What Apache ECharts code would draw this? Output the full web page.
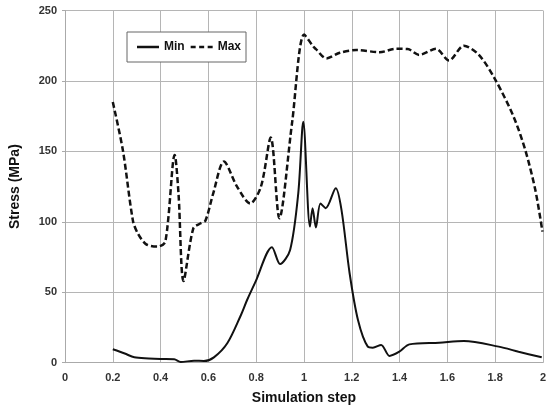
<!DOCTYPE html>
<html>
<head>
<meta charset="utf-8">
<script src="https://cdn.jsdelivr.net/npm/echarts@6/dist/echarts.min.js"></script>
<style>
  html, body { margin: 0; padding: 0; background: #fff; }
  #chart { width: 549px; height: 410px; }
</style>
</head>
<body>
<div id="chart"></div>
<script>
// values: [simulation step, stress]
const minData = [
  [0.2, 9.5], [0.25, 6.5], [0.29, 3.8], [0.35, 3.0], [0.4, 2.6], [0.457, 2.4], [0.484, 0.5],
  [0.54, 1.4], [0.581, 1.2], [0.623, 3.8], [0.679, 13.8], [0.734, 33], [0.762, 44.5],
  [0.796, 57], [0.866, 82], [0.9, 70], [0.942, 80], [0.976, 120], [0.997, 171],
  [1.025, 96.6], [1.036, 109.7], [1.05, 96], [1.069, 113], [1.091, 109.7], [1.133, 123.9],
  [1.157, 108.5], [1.191, 63.5], [1.226, 30.3], [1.267, 11.4], [1.288, 10.7], [1.323, 12.6],
  [1.358, 4.8], [1.399, 7.8], [1.441, 13], [1.566, 14.2], [1.669, 15.4], [1.815, 11.4],
  [1.898, 7.8], [1.995, 3.8]
];
const maxData = [
  [0.2, 185], [0.242, 151], [0.284, 101], [0.304, 92], [0.34, 84], [0.387, 82.4], [0.42, 86],
  [0.459, 147.5], [0.475, 120], [0.496, 58], [0.537, 95.4], [0.568, 99], [0.588, 101],
  [0.62, 120], [0.665, 142.8], [0.72, 125], [0.775, 113], [0.82, 125], [0.861, 159.8],
  [0.897, 102.5], [0.95, 170], [1.001, 233], [1.039, 224.4], [1.05, 222.6], [1.094, 216],
  [1.15, 220], [1.219, 222], [1.316, 220.4], [1.385, 222.8], [1.434, 222.6], [1.482, 218.5],
  [1.552, 222.8], [1.607, 214.5], [1.669, 225], [1.732, 218.5], [1.801, 200.8],
  [1.877, 174.7], [1.926, 151], [1.968, 122.7], [1.998, 93]
];
const seriesNames = ['Min', 'Max'];

// legend icons: a solid bar and a dashed bar
const solidIcon = 'path://M0,0h22v2.5h-22Z';
const dashIcon = 'path://M0,0h5v2.5h-5Z M8.5,0h5v2.5h-5Z M17,0h5v2.5h-5Z';

const chart = echarts.init(document.getElementById('chart'));
const font = 'Liberation Sans, Arial, sans-serif';
const option = {
  animation: false,
  grid: { left: 63.5, right: 4.5, top: 10.5, bottom: 47.3 },
  legend: {
    left: 127, top: 32,
    orient: 'horizontal',
    backgroundColor: '#fff',
    borderColor: '#666', borderWidth: 1,
    padding: [9, 5, 9, 10],
    itemWidth: 22, itemHeight: 2.5, itemGap: 6,
    textStyle: { fontFamily: font, fontWeight: 'bold', fontSize: 12, color: '#111' },
    data: [
      { name: seriesNames[0], icon: solidIcon },
      { name: seriesNames[1], icon: dashIcon }
    ]
  },
  xAxis: {
    type: 'value', min: 0, max: 2, interval: 0.2,
    name: 'Simulation step', nameLocation: 'middle', nameGap: 28,
    nameTextStyle: { fontFamily: font, fontWeight: 'bold', fontSize: 14, color: '#111' },
    axisLine: { show: true, lineStyle: { color: '#aaa' } },
    axisTick: { show: false },
    axisLabel: { fontFamily: font, fontWeight: 'bold', fontSize: 11, color: '#333', margin: 10 },
    splitLine: { show: true, lineStyle: { color: '#b5b5b5', width: 1 } }
  },
  yAxis: {
    type: 'value', min: 0, max: 250, interval: 50,
    name: 'Stress (MPa)', nameLocation: 'middle', nameGap: 43,
    nameTextStyle: { fontFamily: font, fontWeight: 'bold', fontSize: 14, color: '#111' },
    axisLine: { show: true, lineStyle: { color: '#aaa' } },
    axisTick: { show: true, length: 3, lineStyle: { color: '#aaa' } },
    axisLabel: { fontFamily: font, fontWeight: 'bold', fontSize: 11, color: '#333', margin: 8 },
    splitLine: { show: true, lineStyle: { color: '#b5b5b5', width: 1 } }
  },
  series: [
    {
      name: seriesNames[0], type: 'line', data: minData,
      smooth: 0.3, symbol: 'none',
      lineStyle: { color: '#111', width: 2 },
      itemStyle: { color: '#111' }
    },
    {
      name: seriesNames[1], type: 'line', data: maxData,
      smooth: 0.3, symbol: 'none',
      lineStyle: { color: '#111', width: 2.5, type: [6, 3] },
      itemStyle: { color: '#111' }
    }
  ]
};
chart.setOption(option);
</script>
</body>
</html>
